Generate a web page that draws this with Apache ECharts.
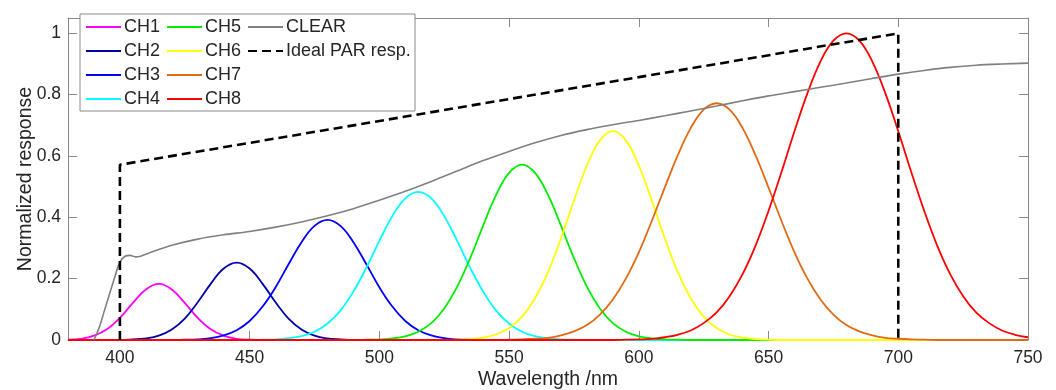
<!DOCTYPE html>
<html>
<head>
<meta charset="utf-8">
<script src="https://cdn.jsdelivr.net/npm/echarts@6/dist/echarts.min.js"></script>
<style>
html,body{margin:0;padding:0;background:#fff;}
#chart{width:1056px;height:390px;}
</style>
</head>
<body>
<div id="chart"></div>
<script>
// Wavelength grid (nm)
var wavelengths = [
  380,385,390,395,400,405,410,415,420,425,430,435,440,445,450,
  455,460,465,470,475,480,485,490,495,500,505,510,515,520,525,
  530,535,540,545,550,555,560,565,570,575,580,585,590,595,600,
  605,610,615,620,625,630,635,640,645,650,655,660,665,670,675,
  680,685,690,695,700,705,710,715,720,725,730,735,740,745,750
];
var ch1 = [
  0.001,0.004,0.014,0.035,0.072,0.121,0.165,0.183,0.165,0.121,0.072,0.035,0.014,0.004,0.001,
  0,0,0,0,0,0,0,0,0,0,0,0,0,0,0,
  0,0,0,0,0,0,0,0,0,0,0,0,0,0,0,
  0,0,0,0,0,0,0,0,0,0,0,0,0,0,0,
  0,0,0,0,0,0,0,0,0,0,0,0,0,0,0
];
var ch2 = [
  0,0,0,0,0,0.002,0.005,0.014,0.034,0.070,0.123,0.183,0.233,0.252,0.233,
  0.183,0.123,0.070,0.034,0.014,0.005,0.002,0,0,0,0,0,0,0,0,
  0,0,0,0,0,0,0,0,0,0,0,0,0,0,0,
  0,0,0,0,0,0,0,0,0,0,0,0,0,0,0,
  0,0,0,0,0,0,0,0,0,0,0,0,0,0,0
];
var ch3 = [
  0,0,0,0,0,0,0,0,0,0.001,0.002,0.006,0.015,0.032,0.062,
  0.109,0.172,0.247,0.319,0.372,0.392,0.372,0.319,0.247,0.172,0.109,0.062,0.032,0.015,0.006,
  0.002,0.001,0,0,0,0,0,0,0,0,0,0,0,0,0,
  0,0,0,0,0,0,0,0,0,0,0,0,0,0,0,
  0,0,0,0,0,0,0,0,0,0,0,0,0,0,0
];
var ch4 = [
  0,0,0,0,0,0,0,0,0,0,0,0,0,0,0,
  0.001,0.002,0.006,0.013,0.027,0.054,0.096,0.158,0.236,0.323,0.404,0.462,0.483,0.462,0.404,
  0.323,0.236,0.158,0.096,0.054,0.027,0.013,0.006,0.002,0.001,0,0,0,0,0,
  0,0,0,0,0,0,0,0,0,0,0,0,0,0,0,
  0,0,0,0,0,0,0,0,0,0,0,0,0,0,0
];
var ch5 = [
  0,0,0,0,0,0,0,0,0,0,0,0,0,0,0,
  0,0,0,0,0,0,0,0,0.001,0.002,0.005,0.012,0.027,0.055,0.103,
  0.174,0.267,0.373,0.473,0.545,0.572,0.545,0.473,0.373,0.267,0.174,0.103,0.055,0.027,0.012,
  0.005,0.002,0.001,0,0,0,0,0,0,0,0,0,0,0,0,
  0,0,0,0,0,0,0,0,0,0,0,0,0,0,0
];
var ch6 = [
  0,0,0,0,0,0,0,0,0,0,0,0,0,0,0,
  0,0,0,0,0,0,0,0,0,0,0,0,0,0,0,
  0.001,0.003,0.008,0.018,0.039,0.076,0.136,0.222,0.332,0.455,0.569,0.651,0.681,0.651,0.569,
  0.455,0.332,0.222,0.136,0.076,0.039,0.018,0.008,0.003,0.001,0,0,0,0,0,
  0,0,0,0,0,0,0,0,0,0,0,0,0,0,0
];
var ch7 = [
  0,0,0,0,0,0,0,0,0,0,0,0,0,0,0,
  0,0,0,0,0,0,0,0,0,0,0,0,0,0,0,
  0,0,0,0,0.001,0.002,0.004,0.007,0.015,0.028,0.049,0.083,0.132,0.200,0.286,
  0.388,0.497,0.602,0.691,0.751,0.772,0.751,0.691,0.602,0.497,0.388,0.286,0.200,0.132,0.083,
  0.049,0.028,0.015,0.007,0.004,0.002,0.001,0,0,0,0,0,0,0,0
];
var ch8 = [
  0,0,0,0,0,0,0,0,0,0,0,0,0,0,0,
  0,0,0,0,0,0,0,0,0,0,0,0,0,0,0,
  0,0,0,0,0,0,0,0,0,0,0,0,0,0.001,0.002,
  0.004,0.009,0.017,0.031,0.055,0.090,0.143,0.215,0.308,0.421,0.548,0.681,0.805,0.908,0.976,
  1.000,0.976,0.908,0.805,0.681,0.548,0.421,0.308,0.215,0.143,0.090,0.055,0.031,0.017,0.009
];
// CLEAR channel (own wavelength sampling)
var clearWl = [390,392,394,396,398,400,402,404,406,408,410,415,420,430,440,450,460,470,480,490,500,510,520,530,540,550,560,570,580,590,600,610,620,630,640,650,660,670,680,690,700,710,720,730,740,750];
var clearVal = [0,0.04,0.095,0.15,0.205,0.255,0.273,0.276,0.271,0.273,0.28,0.295,0.309,0.329,0.343,0.354,0.368,0.385,0.405,0.428,0.456,0.485,0.517,0.551,0.585,0.615,0.643,0.667,0.686,0.702,0.716,0.731,0.747,0.763,0.780,0.796,0.810,0.824,0.838,0.853,0.867,0.879,0.889,0.896,0.900,0.903];
// Ideal PAR response
var idealWl = [400,400,700,700];
var idealVal = [0,0.5714,1,0];

var xTicks = [400,450,500,550,600,650,700,750];
var chNames = ['CH1','CH2','CH3','CH4','CH5','CH6','CH7','CH8'];
var chColors = ['#FF00FF','#0000A8','#0000FF','#00FFFF','#00EE00','#FFFF00','#E26A12','#FF0000'];
var chData = [ch1,ch2,ch3,ch4,ch5,ch6,ch7,ch8];

function zip(xs, ys){ return xs.map(function(x,i){ return [x, ys[i]]; }); }

var FONT = '"Liberation Sans", Arial, Helvetica, sans-serif';
var TXT = '#262626';
var AX = '#8a8a8a';

var series = [];
chNames.forEach(function(n,i){
  series.push({
    name:n, type:'line', data:zip(wavelengths, chData[i]),
    symbol:'none', smooth:0.4, animation:false,
    lineStyle:{color:chColors[i], width:1.8}, itemStyle:{color:chColors[i]}, z:2+i*0.01
  });
});
series.push({
  name:'CLEAR', type:'line', data:zip(clearWl, clearVal), symbol:'none', smooth:0.3, animation:false,
  lineStyle:{color:'#808080', width:1.6}, itemStyle:{color:'#808080'}, z:3
});
series.push({
  name:'Ideal PAR resp.', type:'line', data:zip(idealWl, idealVal), symbol:'none', animation:false,
  lineStyle:{color:'#000000', width:2.6, type:[9,5]}, itemStyle:{color:'#000000'}, z:4
});

function legendCol(names, left){
  return {
    data:names, orient:'vertical', left:left, top:18, itemWidth:35, itemHeight:18, itemGap:6,
    padding:0, selectedMode:false, z:6,
    itemStyle:{opacity:0},
    textStyle:{fontFamily:FONT, fontSize:18, color:TXT, lineHeight:18, padding:[0,0,0,-2]}
  };
}

var yFmt = function(v){ var k = v*5; return Math.abs(k-Math.round(k))<1e-6 ? String(Math.round(v*10)/10) : ''; };

var option = {
  backgroundColor:'#ffffff',
  animation:false,
  grid:{left:68, right:28, top:18, bottom:50, containLabel:false, outerBoundsMode:'none'},
  xAxis:[{
    type:'value', min:380, max:750, position:'bottom',
    name:'Wavelength /nm', nameLocation:'middle', nameGap:30, nameMoveOverlap:false,
    nameTextStyle:{fontFamily:FONT, fontSize:19.5, color:TXT},
    axisLine:{show:true, onZero:false, lineStyle:{color:AX, width:1}},
    axisTick:{show:true, inside:true, length:9, customValues:xTicks, lineStyle:{color:AX}},
    axisLabel:{show:true, customValues:xTicks, margin:9, fontFamily:FONT, fontSize:17.5, color:TXT},
    splitLine:{show:false}
  },{
    type:'value', min:380, max:750, position:'top',
    axisLine:{show:true, onZero:false, lineStyle:{color:AX, width:1}},
    axisTick:{show:true, inside:true, length:9, customValues:xTicks, lineStyle:{color:AX}},
    axisLabel:{show:false}, splitLine:{show:false}
  }],
  yAxis:[{
    type:'value', min:0, max:1.05, interval:0.2, position:'left',
    name:'Normalized response', nameLocation:'middle', nameGap:32, nameMoveOverlap:false,
    nameTextStyle:{fontFamily:FONT, fontSize:19.5, color:TXT},
    axisLine:{show:true, onZero:false, lineStyle:{color:AX, width:1}},
    axisTick:{show:true, inside:true, length:9, lineStyle:{color:AX}},
    axisLabel:{show:true, margin:7, fontFamily:FONT, fontSize:17.5, color:TXT, formatter:yFmt, showMaxLabel:false},
    splitLine:{show:false}
  },{
    type:'value', min:0, max:1.05, interval:0.2, position:'right',
    axisLine:{show:true, onZero:false, lineStyle:{color:AX, width:1}},
    axisTick:{show:true, inside:true, length:9, lineStyle:{color:AX}},
    axisLabel:{show:false}, splitLine:{show:false}
  }],
  legend:[
    legendCol(['CH1','CH2','CH3','CH4'], 85),
    legendCol(['CH5','CH6','CH7','CH8'], 166),
    legendCol(['CLEAR','Ideal PAR resp.'], 247)
  ],
  graphic:[{
    type:'rect', z:5, shape:{x:80, y:14, width:335, height:97},
    style:{fill:'#ffffff', stroke:AX, lineWidth:1}
  }],
  series:series
};

var chart = echarts.init(document.getElementById('chart'), null, {renderer:'canvas'});
chart.setOption(option);
</script>
</body>
</html>
